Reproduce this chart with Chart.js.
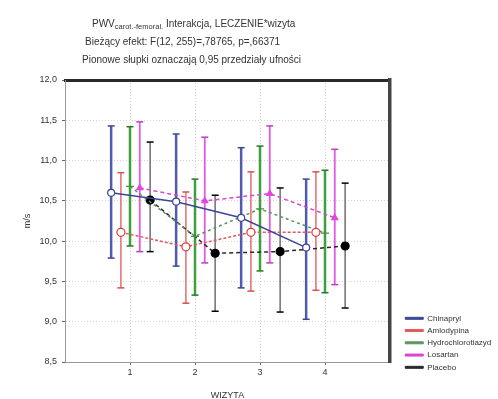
<!DOCTYPE html>
<html><head><meta charset="utf-8">
<script src="https://cdn.jsdelivr.net/npm/chart.js@4/dist/chart.umd.min.js"></script>
<style>
html,body{margin:0;padding:0;background:#fff;}
#wrap{position:relative;width:498px;height:399px;}
canvas{position:absolute;left:0;top:0;}
.t{position:absolute;font-family:"Liberation Sans",Arial,sans-serif;font-size:10px;color:#333;white-space:nowrap;line-height:1;}
.t sub{font-size:7.5px;vertical-align:-2px;}
</style></head><body>
<div id="wrap"><canvas id="c" width="498" height="399"></canvas>
<div class="t" style="left:92px;top:19px">PWV<sub>carot.-femoral.</sub> Interakcja, LECZENIE*wizyta</div>
<div class="t" style="left:85px;top:37px">Bieżący efekt: F(12, 255)=,78765, p=,66371</div>
<div class="t" style="left:82px;top:55px">Pionowe słupki oznaczają 0,95 przedziały ufności</div>
</div>
<script>
// ---- data ----
const visits = [1, 2, 3, 4];
const yTicks = [8.5, 9.0, 9.5, 10.0, 10.5, 11.0, 11.5, 12.0];
const seriesNames = ['Chinapryl', 'Amlodypina', 'Hydrochlorotiazyd', 'Losartan', 'Placebo'];

const chinaprylMean = [10.60, 10.49, 10.29, 9.92];
const chinaprylLow  = [9.79, 9.69, 9.42, 9.03];
const chinaprylHigh = [11.43, 11.33, 11.16, 10.77];

const amlodypinaMean = [10.11, 9.93, 10.11, 10.11];
const amlodypinaLow  = [9.42, 9.23, 9.38, 9.39];
const amlodypinaHigh = [10.85, 10.61, 10.86, 10.86];

const hydroMean = [10.68, 10.06, 10.40, 10.10];
const hydroLow  = [9.94, 9.33, 9.63, 9.36];
const hydroHigh = [11.42, 10.77, 11.18, 10.88];

const losartanMean = [10.66, 10.50, 10.59, 10.29];
const losartanLow  = [9.87, 9.73, 9.73, 9.46];
const losartanHigh = [11.48, 11.29, 11.43, 11.14];

const placeboMean = [10.51, 9.85, 9.87, 9.94];
const placeboLow  = [9.87, 9.13, 9.12, 9.17];
const placeboHigh = [11.23, 10.57, 10.66, 10.72];

// ---- styles / layout ----
const seriesOffset = [-0.29, -0.14, 0, 0.15, 0.31];
const styles = [
  {line:'rgb(60,70,150)', whisk:'rgb(80,90,175)', ww:2.5, dash:[], ps:'circle', pr:3.5, pbg:'#fff', pbc:'rgb(60,70,150)', cap:'rgb(60,70,150)'},
  {line:'rgb(225,90,90)', whisk:'rgb(228,120,120)', ww:1.6, dash:[3,2], ps:'circle', pr:4, pbg:'#fff', pbc:'rgb(215,60,60)', cap:'rgb(215,80,80)'},
  {line:'rgb(90,150,90)', whisk:'rgb(60,160,60)', ww:2.5, dash:[3,3], ps:'cross', pr:4, pbg:'rgb(60,150,60)', pbc:'rgb(60,150,60)', cap:'rgb(40,120,40)'},
  {line:'rgb(215,70,215)', whisk:'rgb(225,90,225)', ww:1.8, dash:[4,3], ps:'triangle', pr:3.5, pbg:'rgb(225,70,225)', pbc:'rgb(225,70,225)', cap:'rgb(190,60,190)'},
  {line:'rgb(40,40,40)', whisk:'rgb(120,120,120)', ww:1.6, dash:[4,3], ps:'circle', pr:4, pbg:'#000', pbc:'#000', cap:'#000'}
];
const means = [chinaprylMean, amlodypinaMean, hydroMean, losartanMean, placeboMean];
const lows = [chinaprylLow, amlodypinaLow, hydroLow, losartanLow, placeboLow];
const highs = [chinaprylHigh, amlodypinaHigh, hydroHigh, losartanHigh, placeboHigh];

const FONT = '"Liberation Sans", Arial, sans-serif';
const datasets = [];
seriesNames.forEach((name, i) => {
  const st = styles[i];
  const wData = [];
  visits.forEach((v, k) => {
    const x = v + seriesOffset[i];
    wData.push({x, y: lows[i][k]}, {x, y: highs[i][k]}, {x, y: null});
  });
  datasets.push({
    label: '', data: wData, showLine: true, spanGaps: false, order: 1,
    borderColor: st.whisk, borderWidth: st.ww,
    pointStyle: 'line', pointRadius: 3.5, pointBorderColor: st.cap, pointBorderWidth: 1.5,
    pointBackgroundColor: st.cap
  });
  datasets.push({
    label: name, order: 0,
    data: visits.map((v, k) => ({x: v + seriesOffset[i], y: means[i][k]})),
    showLine: true, borderColor: st.line, backgroundColor: st.line, borderWidth: 1.5, borderDash: st.dash,
    pointStyle: st.ps, pointRadius: st.pr, pointBackgroundColor: st.pbg, pointBorderColor: st.pbc, pointBorderWidth: 1.2
  });
});

new Chart(document.getElementById('c'), {
  type: 'scatter',
  data: { datasets },
  options: {
    responsive: false, animation: false, devicePixelRatio: 1, events: [],
    layout: { padding: 0 },
    plugins: {
      tooltip: { enabled: false },
      title: { display: false },
      legend: {
        position: 'right', align: 'end', fullSize: true, maxWidth: 97,
        labels: {
          font: { family: FONT, size: 8 }, color: '#333',
          boxWidth: 18, boxHeight: 2, padding: 4.25,
          generateLabels(chart) {
            const items = Chart.defaults.plugins.legend.labels.generateLabels(chart).filter(it => it.text);
            items.forEach(it => {
              const idx = seriesNames.indexOf(it.text);
              it.fillStyle = styles[idx].line; it.strokeStyle = styles[idx].line;
              it.lineWidth = 1; it.lineDash = [];
            });
            items.push({text: ['', ''], fillStyle: 'rgba(0,0,0,0)', strokeStyle: 'rgba(0,0,0,0)', lineWidth: 0, hidden: false, datasetIndex: -1});
            return items;
          }
        }
      }
    },
    scales: {
      x: {
        type: 'linear', position: 'bottom', min: 0, max: 5,
        afterBuildTicks: s => { s.ticks = visits.map(v => ({value: v})); },
        afterFit: s => { s.height = 37; },
        ticks: { font: { family: FONT, size: 9 }, color: '#333', padding: 2, callback: v => String(v) },
        grid: { color: '#d4d4d4', lineWidth: 1, tickLength: 3, tickColor: '#666' },
        border: { color: '#999', width: 1, dash: [1, 2] },
        title: { display: true, text: 'WIZYTA', font: { family: FONT, size: 9 }, color: '#333', padding: { top: 0, bottom: -2 } }
      },
      x2: {
        type: 'linear', position: 'top', min: 0, max: 5,
        afterFit: s => { s.height = 80; },
        ticks: { display: false }, grid: { display: false, drawTicks: false },
        border: { color: '#2a2a2a', width: 3 }
      },
      y: {
        type: 'linear', position: 'left', min: 8.5, max: 12,
        afterBuildTicks: s => { s.ticks = yTicks.map(v => ({value: v})); },
        afterFit: s => { s.width = 65; },
        ticks: { font: { family: FONT, size: 9 }, color: '#333', padding: 5, callback: v => Number(v).toFixed(1).replace('.', ',') },
        grid: { color: '#d4d4d4', lineWidth: 1, tickLength: 3, tickColor: '#666' },
        border: { color: '#999', width: 1, dash: [1, 2] },
        title: { display: true, text: 'm/s', font: { family: FONT, size: 9 }, color: '#333', padding: { top: 22, bottom: 0 } }
      },
      y2: {
        type: 'linear', position: 'right', min: 8.5, max: 12,
        afterFit: s => { const lw = s.chart.legend ? s.chart.legend.width : 0; s.width = Math.max(0, 498 - 390 - lw); },
        ticks: { display: false }, grid: { display: false, drawTicks: false },
        border: { color: '#444', width: 3.5 }
      }
    }
  }
});
</script>
</body></html>
